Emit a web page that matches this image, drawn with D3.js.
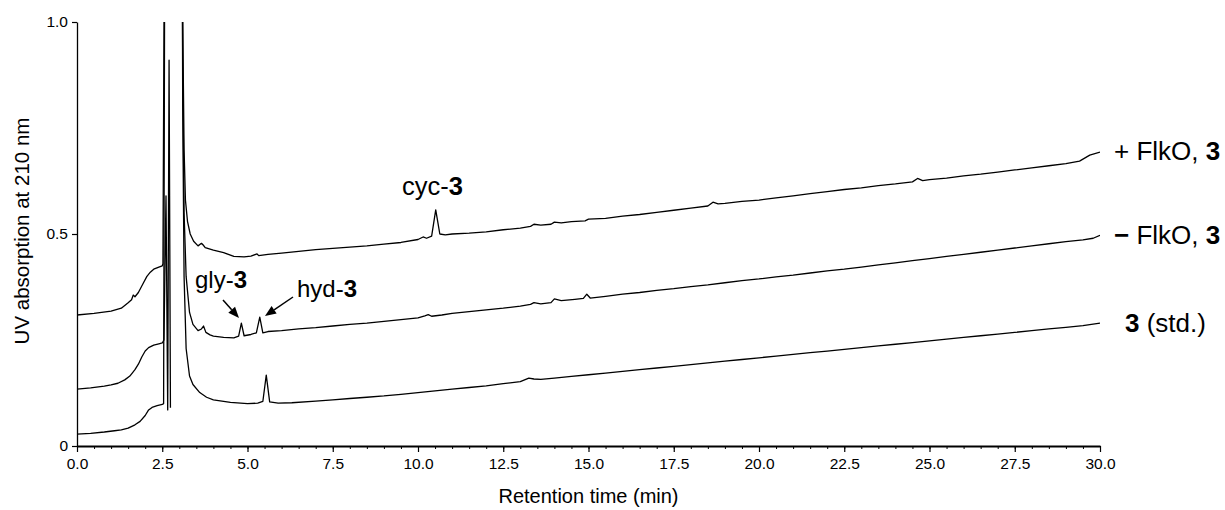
<!DOCTYPE html>
<html><head><meta charset="utf-8">
<script src="https://cdn.jsdelivr.net/npm/d3@7"></script>
<style>
html,body{margin:0;padding:0;background:#fff;}
svg{display:block;font-family:"Liberation Sans",Arial,sans-serif;}
</style></head>
<body>
<svg id="c" width="1225" height="510"></svg>
<script>
// ---- data (retention time in min, UV absorbance; null = off-scale gap) ----
const plusTime = [0.0,0.5,1.0,1.3,1.5,1.6,1.65,1.7,1.8,1.95,2.05,2.15,2.25,2.4,2.5,2.52,2.585,3.08,3.1,3.14,3.18,3.24,3.32,3.42,3.55,3.65,3.7,3.76,4.0,4.3,4.6,4.9,5.1,5.28,5.33,5.6,6.0,6.5,7.0,7.5,8.0,8.5,9.0,9.5,10.0,10.15,10.25,10.4,10.52,10.64,10.8,11.0,11.5,12.0,12.5,13.0,13.3,13.4,13.6,13.9,14.0,14.2,14.5,14.9,15.0,15.5,16.0,16.5,17.0,17.5,18.0,18.5,18.65,18.8,19.0,19.5,20.0,20.5,21.0,21.5,22.0,22.5,23.0,23.5,24.0,24.5,24.65,24.8,25.0,25.5,26.0,26.5,27.0,27.5,28.0,28.5,29.0,29.4,29.7,30.0];
const plusAbs  = [0.309,0.313,0.318,0.325,0.338,0.345,0.356,0.352,0.362,0.385,0.400,0.410,0.417,0.422,0.425,0.430,1.6,1.6,1.0,0.70,0.58,0.53,0.50,0.483,0.472,0.478,0.474,0.468,0.462,0.456,0.447,0.446,0.448,0.453,0.449,0.452,0.455,0.459,0.463,0.466,0.469,0.472,0.476,0.480,0.487,0.493,0.490,0.495,0.557,0.500,0.498,0.500,0.502,0.505,0.510,0.514,0.518,0.523,0.521,0.523,0.528,0.526,0.529,0.531,0.535,0.537,0.542,0.546,0.551,0.556,0.561,0.566,0.575,0.571,0.572,0.577,0.580,0.585,0.590,0.595,0.600,0.605,0.609,0.614,0.618,0.623,0.631,0.626,0.628,0.632,0.637,0.641,0.646,0.651,0.656,0.661,0.666,0.672,0.686,0.693];

const minusTime = [0.0,0.4,0.8,1.0,1.2,1.4,1.55,1.7,1.8,1.9,2.0,2.1,2.25,2.4,2.5,2.55,2.61,2.66,2.70,2.74,2.75,3.07,3.1,3.14,3.2,3.3,3.4,3.55,3.65,3.71,3.78,3.9,4.0,4.3,4.6,4.74,4.82,4.9,5.1,5.26,5.36,5.45,5.6,6.0,6.5,7.0,7.5,8.0,8.5,9.0,9.5,10.0,10.2,10.3,10.4,10.7,11.0,11.5,12.0,12.5,13.0,13.3,13.4,13.6,13.9,14.0,14.2,14.6,14.85,14.95,15.05,15.5,16.0,16.5,17.0,17.5,18.0,18.5,19.0,19.5,20.0,20.5,21.0,21.5,22.0,22.5,23.0,23.5,24.0,24.5,25.0,25.5,26.0,26.5,27.0,27.5,28.0,28.5,29.0,29.5,29.8,30.0];
const minusAbs  = [0.134,0.137,0.141,0.144,0.148,0.156,0.165,0.180,0.193,0.210,0.224,0.232,0.238,0.241,0.243,0.250,0.590,0.085,0.910,0.090,null,1.6,0.90,0.55,0.40,0.315,0.287,0.272,0.276,0.283,0.268,0.262,0.259,0.256,0.255,0.259,0.290,0.260,0.263,0.267,0.304,0.267,0.270,0.272,0.276,0.279,0.283,0.287,0.290,0.294,0.298,0.302,0.307,0.310,0.306,0.309,0.313,0.317,0.321,0.325,0.330,0.334,0.338,0.335,0.338,0.347,0.343,0.346,0.348,0.358,0.349,0.353,0.358,0.362,0.367,0.371,0.376,0.380,0.385,0.390,0.394,0.399,0.403,0.408,0.413,0.417,0.422,0.427,0.432,0.437,0.442,0.447,0.452,0.457,0.462,0.467,0.472,0.477,0.482,0.486,0.490,0.497];

const stdTime = [0.0,0.4,0.8,1.1,1.3,1.5,1.7,1.85,2.0,2.1,2.2,2.35,2.5,2.54,2.585,2.6,3.07,3.1,3.14,3.2,3.3,3.4,3.6,3.8,4.0,4.5,5.0,5.3,5.45,5.55,5.65,5.9,6.3,7.0,7.5,8.0,8.5,9.0,9.5,10.0,10.5,11.0,11.5,12.0,12.5,13.0,13.25,13.4,13.6,14.0,14.5,15.0,15.5,16.0,16.5,17.0,17.5,18.0,18.5,19.0,19.5,20.0,20.5,21.0,21.5,22.0,22.5,23.0,23.5,24.0,24.5,25.0,25.5,26.0,26.5,27.0,27.5,28.0,28.5,29.0,29.5,30.0];
const stdAbs  = [0.028,0.030,0.033,0.036,0.038,0.042,0.050,0.058,0.072,0.085,0.091,0.095,0.098,0.100,1.6,null,1.6,0.80,0.40,0.23,0.165,0.145,0.126,0.115,0.109,0.103,0.100,0.101,0.105,0.167,0.104,0.101,0.102,0.106,0.109,0.112,0.115,0.118,0.122,0.126,0.130,0.134,0.138,0.142,0.147,0.152,0.160,0.158,0.157,0.160,0.164,0.168,0.172,0.176,0.180,0.184,0.188,0.192,0.196,0.200,0.204,0.208,0.212,0.216,0.220,0.224,0.228,0.232,0.236,0.240,0.244,0.248,0.252,0.256,0.260,0.264,0.268,0.272,0.276,0.280,0.284,0.290];

const xMajorTicks = [0,2.5,5,7.5,10,12.5,15,17.5,20,22.5,25,27.5,30];
const xMinorTicks = d3.range(0, 30.001, 0.5);
const yTicks = [0, 0.5, 1.0];
const yTickLabels = ["0", "0.5", "1.0"];

// ---- layout ----
const svg = d3.select("#c");
const L = 77, R = 1100, T = 22, B = 446;
const x = d3.scaleLinear().domain([0, 30]).range([L, R]);
const y = d3.scaleLinear().domain([0, 1]).range([B, T]);

svg.append("defs").append("clipPath").attr("id","plot")
  .append("rect").attr("x", L).attr("y", T).attr("width", R - L).attr("height", B - T);

// axes
const gxMinor = svg.append("g").attr("transform", `translate(0,${B})`)
  .call(d3.axisBottom(x).tickValues(xMinorTicks).tickSize(3).tickFormat(""));
gxMinor.select(".domain").remove();
gxMinor.selectAll("line").attr("stroke","#000").attr("stroke-width",1);

const gx = svg.append("g").attr("transform", `translate(0,${B})`)
  .call(d3.axisBottom(x).tickValues(xMajorTicks).tickSize(6).tickSizeOuter(0).tickPadding(6)
    .tickFormat(d3.format(".1f")));
gx.select(".domain").attr("stroke","#000").attr("stroke-width",2);
gx.selectAll("line").attr("stroke","#000").attr("stroke-width",1.2);
gx.selectAll("text").attr("font-size",15.5).attr("fill","#000")
  .attr("font-family","Liberation Sans, Arial, sans-serif");

const gy = svg.append("g").attr("transform", `translate(${L},0)`)
  .call(d3.axisLeft(y).tickValues(yTicks).tickSize(5).tickSizeOuter(0).tickPadding(4)
    .tickFormat((d, i) => yTickLabels[i]));
gy.select(".domain").attr("stroke","#000").attr("stroke-width",1.3);
gy.selectAll("line").attr("stroke","#000").attr("stroke-width",1.2);
gy.selectAll("text").attr("font-size",15.5).attr("fill","#000")
  .attr("font-family","Liberation Sans, Arial, sans-serif");

// axis titles
svg.append("text").attr("x", (L + R) / 2).attr("y", 503).attr("text-anchor","middle")
  .attr("font-size",20).text("Retention time (min)");
svg.append("text").attr("transform", `translate(29,231) rotate(-90)`)
  .attr("text-anchor","middle").attr("font-size",20.5).text("UV absorption at 210 nm");

// traces
const line = d3.line().defined(d => d[1] !== null).x(d => x(d[0])).y(d => y(d[1]));
const series = [
  [plusTime, plusAbs],
  [minusTime, minusAbs],
  [stdTime, stdAbs]
];
const gl = svg.append("g").attr("clip-path","url(#plot)");
series.forEach(([t, v]) => {
  gl.append("path").datum(t.map((ti, i) => [ti, v[i]]))
    .attr("d", line).attr("fill","none").attr("stroke","#000")
    .attr("stroke-width",1.3).attr("stroke-linejoin","round");
});

// labels
function label(xp, yp, size, parts) {
  const t = svg.append("text").attr("x", xp).attr("y", yp).attr("font-size", size);
  parts.forEach(([s, bold]) => t.append("tspan").attr("font-weight", bold ? "bold" : "normal").text(s));
}
label(1114, 160, 26, [["+ FlkO, ", false], ["3", true]]);
label(1114, 244, 26, [["\u2212", true], [" FlkO, ", false], ["3", true]]);
label(1125, 332, 26, [["3", true], [" (std.)", false]]);

// peak annotations
label(402, 195, 25.5, [["cyc-", false], ["3", true]]);
label(195, 288, 24, [["gly-", false], ["3", true]]);
label(297, 297, 24, [["hyd-", false], ["3", true]]);

function arrow(x1, y1, x2, y2) {
  const a = Math.atan2(y2 - y1, x2 - x1), len = 11, w = 4.5;
  const bx = x2 - len * Math.cos(a), by = y2 - len * Math.sin(a);
  svg.append("line").attr("x1", x1).attr("y1", y1).attr("x2", bx).attr("y2", by)
    .attr("stroke","#000").attr("stroke-width",1.5);
  svg.append("path").attr("fill","#000")
    .attr("d", `M${x2},${y2}L${bx - w * Math.sin(a)},${by + w * Math.cos(a)}L${bx + w * Math.sin(a)},${by - w * Math.cos(a)}Z`);
}
arrow(223, 300, 239, 318);
arrow(293, 297, 265, 316);
</script>
</body></html>
